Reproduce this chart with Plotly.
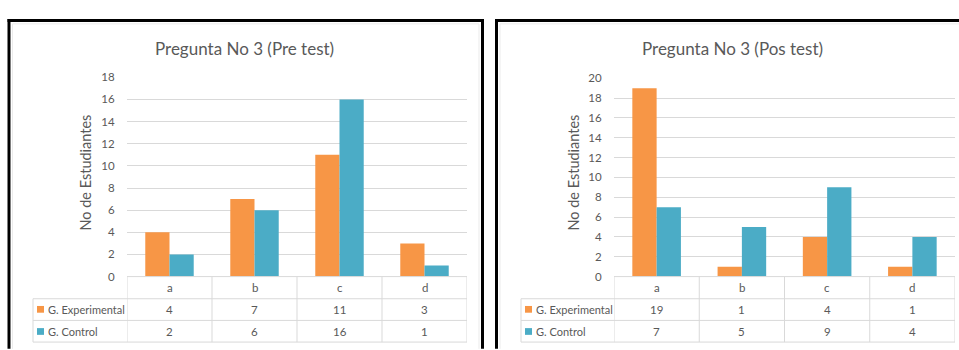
import plotly.graph_objects as go

categories = ["a", "b", "c", "d"]
series_names = ["G. Experimental", "G. Control"]
pre_experimental = [4, 7, 11, 3]
pre_control = [2, 6, 16, 1]
pos_experimental = [19, 1, 4, 1]
pos_control = [7, 5, 9, 4]
pre_ticks = list(range(0, 19, 2))
pos_ticks = list(range(0, 21, 2))
titles = ["Pregunta No 3 (Pre test)", "Pregunta No 3 (Pos test)"]
y_title = "No de Estudiantes"
colors = ["#F79646", "#4BACC6"]

W, H = 959, 350
FONT = "Lato"
TXT = "#595959"
GRID = "#D9D9D9"


def px(x):
    return x / W


def py(y):
    return 1 - y / H


panels = [
    dict(series=[pre_experimental, pre_control], ticks=pre_ticks, ymax=18,
         left=127, right=467, top=73, bottom=280, label_left=33,
         title_x=244, ytitle_x=86, border_l=9, border_r=482.5, xa="x", ya="y"),
    dict(series=[pos_experimental, pos_control], ticks=pos_ticks, ymax=20,
         left=614, right=955, top=74, bottom=280, label_left=521,
         title_x=732, ytitle_x=574, border_l=496.5, border_r=None, xa="x2", ya="y2"),
]
row_lines = [303, 325.5, 348]

fig = go.Figure()
shapes = []
annotations = []

for i, p in enumerate(panels):
    sfx = "" if i == 0 else str(i + 1)
    for s, name in enumerate(series_names):
        fig.add_trace(go.Bar(x=categories, y=p["series"][s], name=name,
                             marker=dict(color=colors[s], line=dict(width=0)),
                             xaxis=p["xa"], yaxis=p["ya"], showlegend=False,
                             hoverinfo="skip"))
    fig.update_layout(**{
        "xaxis" + sfx: dict(domain=[px(p["left"]), px(p["right"])], range=[-0.5, 3.5],
                            showticklabels=False, showgrid=False, zeroline=False,
                            showline=False, anchor="y" + sfx, fixedrange=True),
        "yaxis" + sfx: dict(domain=[py(p["bottom"]), py(p["top"])], range=[0, p["ymax"]],
                            tickvals=p["ticks"], showgrid=True, gridcolor=GRID, gridwidth=1,
                            zeroline=False, showline=False, anchor="x" + sfx,
                            ticks="outside", ticklen=9, tickcolor="rgba(0,0,0,0)",
                            tickfont=dict(family=FONT, size=11.5, color=TXT), fixedrange=True),
    })
    # panel title
    annotations.append(dict(text=titles[i], x=px(p["title_x"]), y=py(43), xref="paper", yref="paper",
                            showarrow=False, xanchor="center", yanchor="middle",
                            font=dict(family=FONT, size=17, color=TXT)))
    # y axis title
    annotations.append(dict(text=y_title, x=px(p["ytitle_x"]), y=py(172), xref="paper", yref="paper",
                            showarrow=False, textangle=-90, xanchor="center", yanchor="middle",
                            font=dict(family=FONT, size=14.5, color=TXT)))
    # data table lines
    shapes.append(dict(type="line", xref="paper", yref="paper", x0=px(p["left"]), x1=px(p["right"]),
                       y0=py(280), y1=py(280), line=dict(color=GRID, width=1)))
    for ry in row_lines:
        shapes.append(dict(type="line", xref="paper", yref="paper", x0=px(p["label_left"]), x1=px(p["right"]),
                           y0=py(ry), y1=py(ry), line=dict(color=GRID, width=1)))
    for k in range(len(categories) + 1):
        shapes.append(dict(type="line", xref=p["xa"], yref="paper", x0=k - 0.5, x1=k - 0.5,
                           y0=py(280), y1=py(348), line=dict(color=GRID, width=1)))
    shapes.append(dict(type="line", xref="paper", yref="paper", x0=px(p["label_left"]), x1=px(p["label_left"]),
                       y0=py(303), y1=py(348), line=dict(color=GRID, width=1)))
    # category row
    for c in categories:
        annotations.append(dict(text=c, x=c, y=py(291.5), xref=p["xa"], yref="paper", showarrow=False,
                                xanchor="center", yanchor="middle", font=dict(family=FONT, size=11.5, color=TXT)))
    row_centers = [314, 337]
    for s, name in enumerate(series_names):
        yc = row_centers[s]
        shapes.append(dict(type="rect", xref="paper", yref="paper",
                           x0=px(p["label_left"] + 4), x1=px(p["label_left"] + 11),
                           y0=py(yc - 3.5), y1=py(yc + 3.5), fillcolor=colors[s], line=dict(width=0)))
        annotations.append(dict(text=name, x=px(p["label_left"] + 12.5), y=py(yc), xref="paper", yref="paper",
                                showarrow=False, xanchor="left", yanchor="middle",
                                font=dict(family=FONT, size=11, color=TXT)))
        for c, v in zip(categories, p["series"][s]):
            annotations.append(dict(text=str(v), x=c, y=py(yc), xref=p["xa"], yref="paper", showarrow=False,
                                    xanchor="center", yanchor="middle",
                                    font=dict(family=FONT, size=11.5, color=TXT)))
    # panel border (black frame + faint inner line)
    bl = p["border_l"]
    br = p["border_r"] if p["border_r"] is not None else W + 5
    shapes.append(dict(type="line", xref="paper", yref="paper", x0=px(bl - 1.5), x1=px(br + 1.5),
                       y0=py(14), y1=py(14), line=dict(color="black", width=3)))
    shapes.append(dict(type="line", xref="paper", yref="paper", x0=px(bl), x1=px(bl),
                       y0=py(12.5), y1=py(H + 5), line=dict(color="black", width=3)))
    if p["border_r"] is not None:
        shapes.append(dict(type="line", xref="paper", yref="paper", x0=px(br), x1=px(br),
                           y0=py(12.5), y1=py(H + 5), line=dict(color="black", width=3)))
    shapes.append(dict(type="path", xref="paper", yref="paper",
                       path=f"M {px(bl + 3.5)},{py(H + 5)} L {px(bl + 3.5)},{py(17.5)} L {px(br - 3.5)},{py(17.5)}"
                            + (f" L {px(br - 3.5)},{py(H + 5)}" if p["border_r"] is not None else ""),
                       line=dict(color="#EBEBEB", width=1)))

fig.update_layout(width=W, height=H, margin=dict(l=0, r=0, t=0, b=0),
                  paper_bgcolor="white", plot_bgcolor="white",
                  barmode="group", bargap=0.43, bargroupgap=0,
                  shapes=shapes, annotations=annotations, showlegend=False)

fig.write_html("out.html", config={"displayModeBar": False})
